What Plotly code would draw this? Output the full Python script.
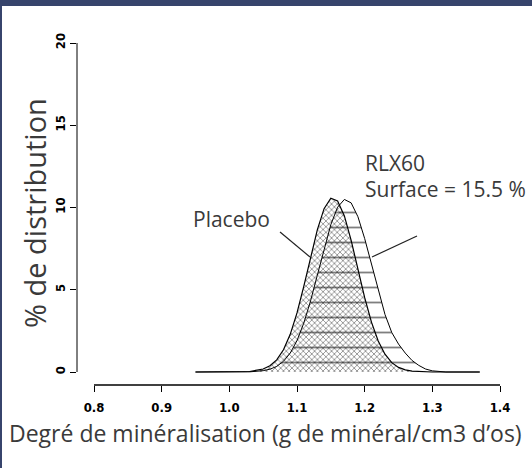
import plotly.graph_objects as go

# ---- data ----
x_vals = [0.95, 1.00, 1.03, 1.05, 1.06, 1.07, 1.08, 1.09, 1.10, 1.11, 1.12, 1.13, 1.14,
          1.15, 1.16, 1.17, 1.18, 1.19, 1.20, 1.21, 1.22, 1.23, 1.24, 1.25, 1.26, 1.27,
          1.28, 1.29, 1.30, 1.31, 1.32, 1.37]
placebo = [0.0, 0.0, 0.03, 0.18, 0.38, 0.74, 1.35, 2.29, 3.59, 5.2, 6.97, 8.64, 9.93,
           10.56, 10.4, 9.49, 8.0, 6.25, 4.52, 3.03, 1.88, 1.08, 0.57, 0.28, 0.13, 0.05,
           0.02, 0.0, 0.0, 0.0, 0.0, 0.0]
rlx60 = [0.0, 0.0, 0.01, 0.08, 0.17, 0.34, 0.65, 1.15, 1.91, 2.97, 4.32, 5.88, 7.5,
         8.96, 10.02, 10.49, 10.28, 9.44, 8.11, 6.53, 4.92, 3.5, 2.4, 1.7, 1.15, 0.7,
         0.4, 0.18, 0.07, 0.02, 0.0, 0.0]

x_ticks = [0.8, 0.9, 1.0, 1.1, 1.2, 1.3, 1.4]
x_ticklabels = ["0.8", "0.9", "1.0", "1.1", "1.2", "1.3", "1.4"]
y_ticks = [0, 5, 10, 15, 20]
y_ticklabels = ["0", "5", "10", "15", "20"]

x_title = "Degré de minéralisation (g de minéral/cm3 d’os)"
y_title = "% de distribution"

fig = go.Figure()

fig.add_trace(go.Scatter(
    x=x_vals, y=rlx60, mode="lines", name="RLX60",
    line=dict(color="black", width=1),
    fill="tozeroy", fillcolor="rgba(0,0,0,0)",
    fillpattern=dict(shape="-", size=15, solidity=0.12, fgcolor="black",
                     bgcolor="rgba(0,0,0,0)"),
))
fig.add_trace(go.Scatter(
    x=x_vals, y=placebo, mode="lines", name="Placebo",
    line=dict(color="black", width=1.2),
    fill="tozeroy", fillcolor="rgba(0,0,0,0)",
    fillpattern=dict(shape="x", size=4, solidity=0.35, fgcolor="black",
                     bgcolor="rgba(0,0,0,0)"),
))

W, H = 532, 468
L, R, T, B = 77, 20, 40, 83
pw, ph = W - L - R, H - T - B
xpx = 676.7
ypx = 16.45
xmin = 0.8 - 17 / xpx
xmax = xmin + pw / xpx
ymin = -13 / ypx
ymax = ymin + ph / ypx


def px_x(p):
    return (p - L) / pw


def px_y(p):
    return (T + ph - p) / ph


shapes = [
    # white page inside the dark frame (paper background is the frame colour)
    dict(type="rect", xref="paper", yref="paper", layer="below",
         x0=px_x(2), x1=px_x(W + 4), y0=px_y(H + 4), y1=px_y(6),
         fillcolor="white", line=dict(width=0)),
    # detached axis lines (R style)
    dict(type="line", xref="x", yref="paper", x0=0.8, x1=1.4, y0=0, y1=0,
         line=dict(color="black", width=1.3)),
    dict(type="line", xref="paper", yref="y", x0=0, x1=0, y0=0, y1=20,
         line=dict(color="black", width=1)),
]

txt_font = dict(size=21, color="#3a3a3a", family="Open Sans")
annotations = [
    dict(x=1.0025, y=9.3, text="Placebo", showarrow=False, xanchor="center", yanchor="middle",
         font=txt_font, height=22),
    dict(x=1.1975, y=12.7, text="RLX60", showarrow=False, xanchor="left", yanchor="middle",
         font=txt_font, height=22),
    dict(x=1.1975, y=11.1, text="Surface = 15.5 %", showarrow=False, xanchor="left",
         yanchor="middle", font=txt_font, height=22),
    dict(xref="paper", yref="paper", x=px_x(265), y=px_y(433), text=x_title,
         showarrow=False, xanchor="center", yanchor="middle",
         font=dict(size=23, color="#3a3a3a", family="Open Sans")),
    dict(xref="paper", yref="paper", x=px_x(35), y=px_y(213), text=y_title,
         showarrow=False, xanchor="center", yanchor="middle", textangle=-90,
         font=dict(size=29, color="#3a3a3a", family="Open Sans")),
]

# pointer lines
fig.add_trace(go.Scatter(x=[1.0749, 1.1192], y=[8.51, 6.99], mode="lines",
                         line=dict(color="#222", width=1.2), hoverinfo="skip"))
fig.add_trace(go.Scatter(x=[1.2773, 1.2108], y=[8.27, 6.99], mode="lines",
                         line=dict(color="#222", width=1.2), hoverinfo="skip"))

tick_font = dict(size=13, color="black", family="Liberation Sans Narrow, DejaVu Sans Condensed, Arial",
                 weight="bold")

fig.update_layout(
    width=W, height=H,
    margin=dict(l=L, r=R, t=T, b=B),
    paper_bgcolor="#37446c", plot_bgcolor="rgba(0,0,0,0)",
    showlegend=False,
    shapes=shapes,
    annotations=annotations,
    xaxis=dict(range=[xmin, xmax], showgrid=False, zeroline=False, showline=False,
               automargin=False, ticklabelstandoff=4,
               tickvals=x_ticks, ticktext=x_ticklabels, ticks="outside", ticklen=6,
               tickcolor="black", tickwidth=1, tickfont=tick_font),
    yaxis=dict(range=[ymin, ymax], showgrid=False, zeroline=False, showline=False,
               automargin=False,
               tickvals=y_ticks, ticktext=y_ticklabels, ticks="outside", ticklen=6,
               tickcolor="black", tickwidth=1, tickangle=-90, tickfont=tick_font),
)

fig.write_html("out.html", config={"displayModeBar": False},
               post_script="document.body.style.margin='0px';")
